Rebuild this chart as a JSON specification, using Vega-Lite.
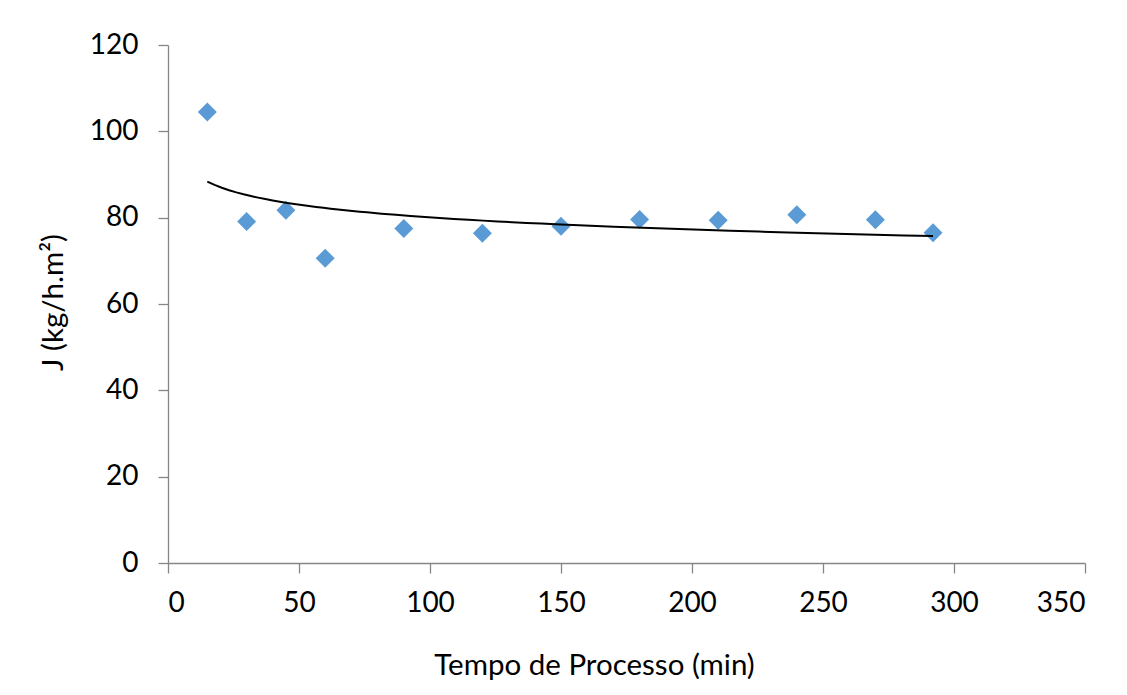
{
  "$schema": "https://vega.github.io/schema/vega-lite/v6.json",
  "width": 917,
  "height": 518,
  "autosize": "none",
  "padding": {"left": 168, "top": 45, "right": 42, "bottom": 132},
  "background": "white",
  "config": {
    "view": {"stroke": null},
    "font": "Lato",
    "axis": {
      "grid": false,
      "domainColor": "#868686",
      "domainWidth": 1.3,
      "tickColor": "#868686",
      "tickWidth": 1.3,
      "tickSize": 10,
      "labelColor": "black",
      "labelFontSize": 28,
      "labelFont": "Lato",
      "titleColor": "black",
      "titleFont": "Lato",
      "titleFontSize": 29.5,
      "titleFontWeight": "normal"
    }
  },
  "data": {
    "values": [
      {"t": 15, "J": 104.5},
      {"t": 30, "J": 79.1},
      {"t": 45, "J": 81.7},
      {"t": 60, "J": 70.6},
      {"t": 90, "J": 77.5},
      {"t": 120, "J": 76.4},
      {"t": 150, "J": 78.0},
      {"t": 180, "J": 79.6},
      {"t": 210, "J": 79.4},
      {"t": 240, "J": 80.7},
      {"t": 270, "J": 79.5},
      {"t": 292, "J": 76.5}
    ]
  },
  "layer": [
    {
      "mark": {"type": "point", "shape": "diamond", "filled": true, "size": 360, "color": "#5B9BD5", "opacity": 1},
      "encoding": {
        "x": {
          "field": "t",
          "type": "quantitative",
          "scale": {"domain": [0, 350], "nice": false},
          "axis": {
            "values": [0, 50, 100, 150, 200, 250, 300, 350],
            "labelPadding": 16,
            "title": "Tempo de Processo (min)",
            "titleX": 426,
            "titleY": 111,
            "titleBaseline": "alphabetic",
            "titleAnchor": null,
            "titleAlign": "center"
          }
        },
        "y": {
          "field": "J",
          "type": "quantitative",
          "scale": {"domain": [0, 120], "nice": false},
          "axis": {
            "values": [0, 20, 40, 60, 80, 100, 120],
            "labelPadding": 20,
            "title": "J (kg/h.m²)",
            "titleAngle": -90,
            "titleX": -106,
            "titleY": 257,
            "titleAlign": "center",
            "titleBaseline": "alphabetic"
          }
        }
      }
    },
    {
      "transform": [
        {"regression": "J", "on": "t", "method": "pow", "extent": [15, 292]}
      ],
      "mark": {"type": "line", "color": "black", "strokeWidth": 2},
      "encoding": {
        "x": {"field": "t", "type": "quantitative"},
        "y": {"field": "J", "type": "quantitative"}
      }
    }
  ]
}
